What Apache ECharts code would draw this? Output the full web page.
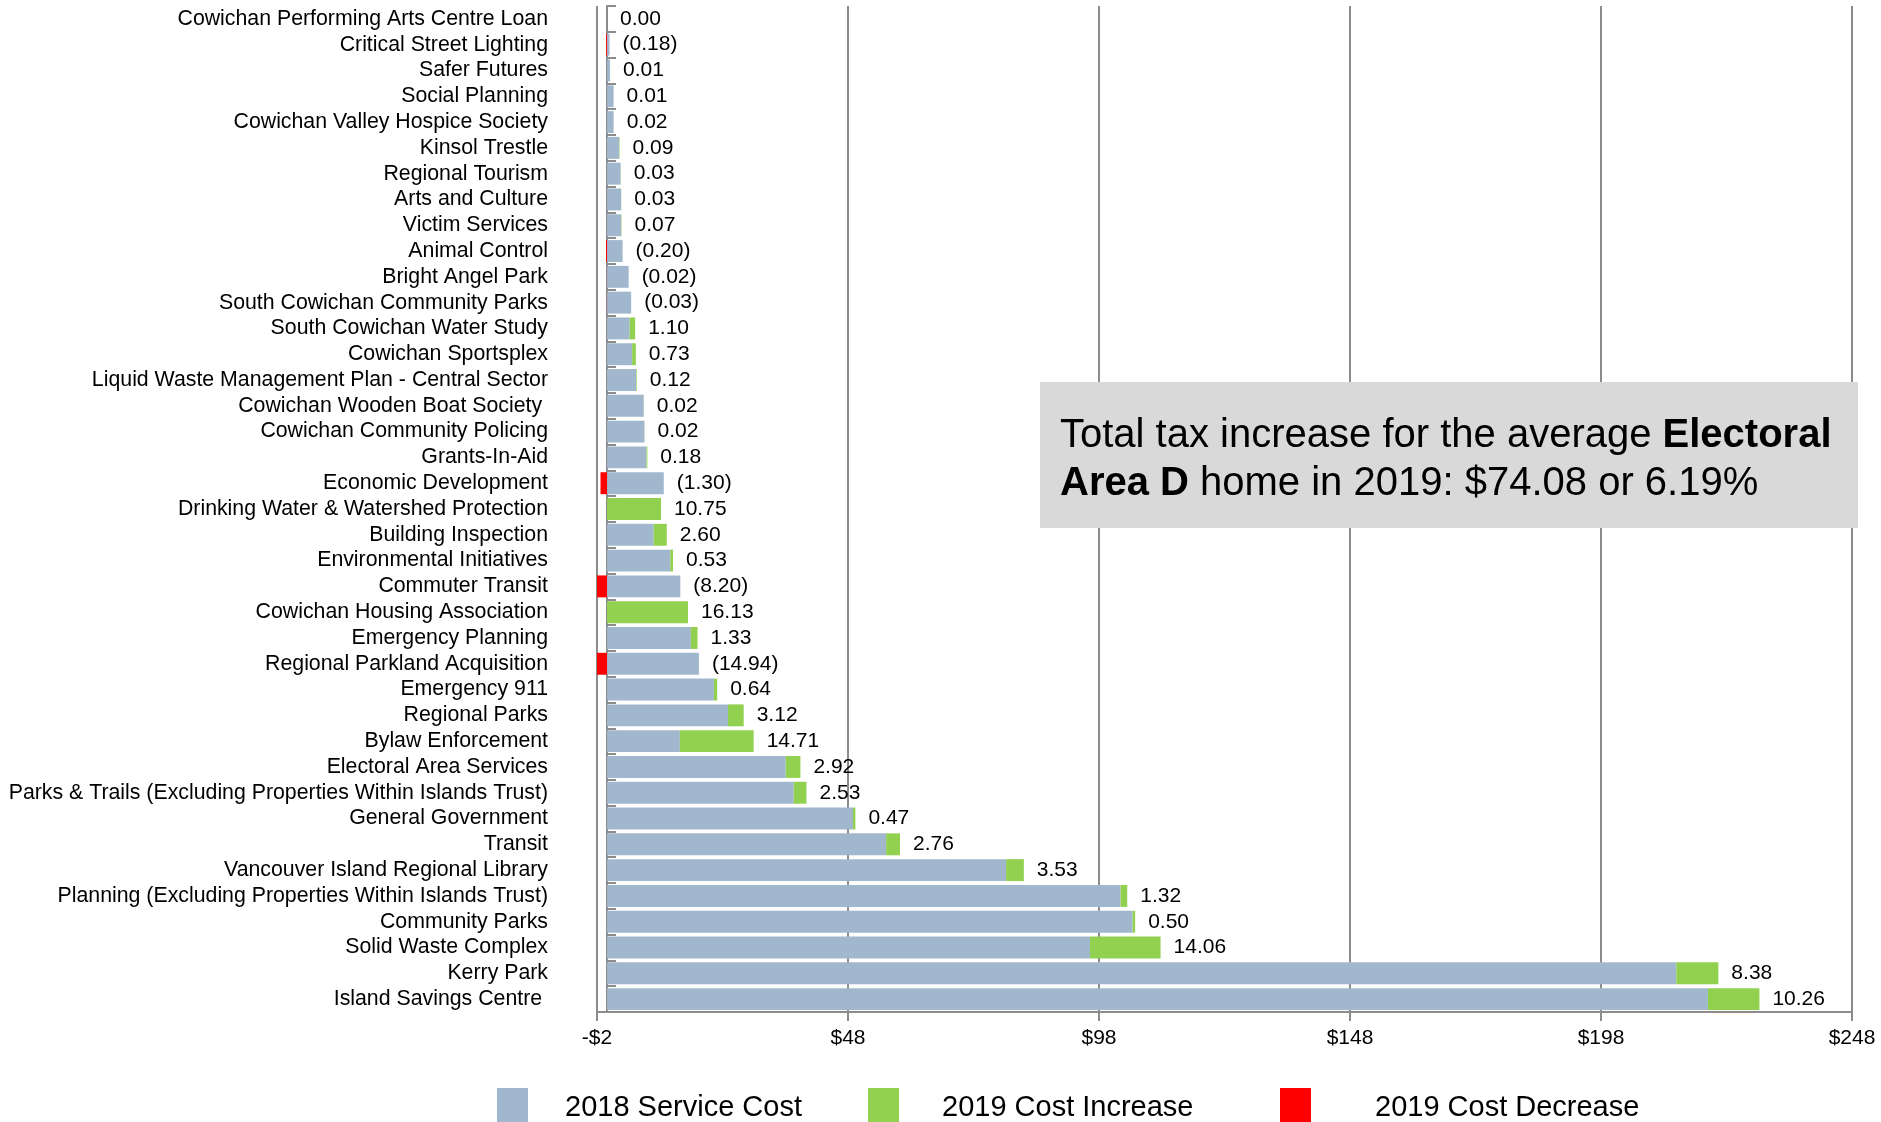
<!DOCTYPE html>
<html>
<head>
<meta charset="utf-8">
<script src="https://cdn.jsdelivr.net/npm/echarts@6/dist/echarts.min.js"></script>
<style>
html,body{margin:0;padding:0;background:#ffffff;}
#chart{width:1881px;height:1122px;}
</style>
</head>
<body>
<div id="chart"></div>
<script>
const categories = [
  'Cowichan Performing Arts Centre Loan',
  'Critical Street Lighting',
  'Safer Futures',
  'Social Planning',
  'Cowichan Valley Hospice Society',
  'Kinsol Trestle',
  'Regional Tourism',
  'Arts and Culture',
  'Victim Services',
  'Animal Control',
  'Bright Angel Park',
  'South Cowichan Community Parks',
  'South Cowichan Water Study',
  'Cowichan Sportsplex',
  'Liquid Waste Management Plan - Central Sector',
  'Cowichan Wooden Boat Society ',
  'Cowichan Community Policing',
  'Grants-In-Aid',
  'Economic Development',
  'Drinking Water & Watershed Protection',
  'Building Inspection',
  'Environmental Initiatives',
  'Commuter Transit',
  'Cowichan Housing Association',
  'Emergency Planning',
  'Regional Parkland Acquisition',
  'Emergency 911',
  'Regional Parks',
  'Bylaw Enforcement',
  'Electoral Area Services',
  'Parks & Trails (Excluding Properties Within Islands Trust)',
  'General Government',
  'Transit',
  'Vancouver Island Regional Library',
  'Planning (Excluding Properties Within Islands Trust)',
  'Community Parks',
  'Solid Waste Complex',
  'Kerry Park',
  'Island Savings Centre '
];

const serviceCost2018 = [
  0, 0.5, 0.6, 1.3, 1.3, 2.4, 2.7, 2.8, 2.8, 3.1,
  4.3, 4.8, 4.5, 5.0, 5.8, 7.3, 7.45, 7.85, 11.3, 0,
  9.3, 12.6, 14.6, 0, 16.7, 18.3, 21.3, 24.1, 14.5, 35.6,
  37.2, 49.0, 55.6, 79.5, 102.3, 104.7, 96.2, 213.0, 219.3
];

const costChange2019 = [
  0.00, -0.18, 0.01, 0.01, 0.02, 0.09, 0.03, 0.03, 0.07, -0.20,
  -0.02, -0.03, 1.10, 0.73, 0.12, 0.02, 0.02, 0.18, -1.30, 10.75,
  2.60, 0.53, -8.20, 16.13, 1.33, -14.94, 0.64, 3.12, 14.71, 2.92,
  2.53, 0.47, 2.76, 3.53, 1.32, 0.50, 14.06, 8.38, 10.26
];

const xTickValues = [-2, 48, 98, 148, 198, 248];

const seriesNames = ['2018 Service Cost', '2019 Cost Increase', '2019 Cost Decrease'];

const noteText = 'Total tax increase for the average {b|Electoral}\n{b|Area D} home in 2019: $74.08 or 6.19%';

// derived
const increases = costChange2019.map(v => v > 0 ? v : 0);
const decreases = costChange2019.map(v => v < 0 ? v : 0);
const labelAnchor = serviceCost2018.map((v, i) => v + increases[i]);

const FONT = "'Liberation Sans', Arial, sans-serif";
const COLORS = ['#a0b7cd', '#92d050', '#ff0000'];
const GRAY = '#8c8c8c';

function fmtChange(v) {
  return v < 0 ? '(' + Math.abs(v).toFixed(2) + ')' : v.toFixed(2);
}

const chart = echarts.init(document.getElementById('chart'), null, {renderer: 'canvas'});

function legendFor(i, left, textGap) {
  return {
    show: true,
    left: left,
    top: 1088,
    padding: 0,
    orient: 'horizontal',
    icon: 'rect',
    itemWidth: 31,
    itemHeight: 40,
    data: [seriesNames[i]],
    selectedMode: false,
    textStyle: {fontSize: 29, fontFamily: FONT, color: '#000', padding: [0, 0, 0, textGap]}
  };
}

const option = {
  animation: false,
  backgroundColor: '#ffffff',
  textStyle: {fontFamily: FONT},
  grid: {left: 597, top: 6, width: 1255, height: 1006, containLabel: false},
  legend: [
    legendFor(0, 497, 32),
    legendFor(1, 868, 38),
    legendFor(2, 1280, 59)
  ],
  xAxis: {
    type: 'value',
    min: -2,
    max: 248,
    axisLine: {show: true, lineStyle: {color: GRAY, width: 2}},
    axisTick: {show: true, length: 9, lineStyle: {color: GRAY, width: 2}, customValues: xTickValues},
    axisLabel: {
      show: true, customValues: xTickValues, margin: 16,
      fontSize: 21, color: '#000', fontFamily: FONT,
      formatter: v => (v < 0 ? '-$' + Math.abs(v) : '$' + v)
    },
    splitLine: {show: true, lineStyle: {color: GRAY, width: 2}}
  },
  yAxis: {
    type: 'category',
    data: categories,
    inverse: true,
    axisLine: {show: true, lineStyle: {color: GRAY, width: 2}},
    axisTick: {show: true, inside: true, interval: 0, length: 9, lineStyle: {color: GRAY, width: 2}},
    axisLabel: {show: true, interval: 0, margin: 49, fontSize: 21.3, color: '#000', fontFamily: FONT},
    splitLine: {show: false}
  },
  series: [
    {
      name: seriesNames[0], type: 'bar', stack: 'total',
      data: serviceCost2018,
      itemStyle: {color: COLORS[0]},
      barCategoryGap: '15%', barGap: '-100%'
    },
    {
      name: seriesNames[1], type: 'bar', stack: 'total',
      data: increases,
      itemStyle: {color: COLORS[1]},
      barCategoryGap: '15%', barGap: '-100%'
    },
    {
      name: seriesNames[2], type: 'bar', stack: 'total',
      data: decreases,
      itemStyle: {color: COLORS[2]},
      barCategoryGap: '15%', barGap: '-100%'
    },
    {
      name: 'labels', type: 'bar',
      data: labelAnchor,
      silent: true,
      itemStyle: {color: 'rgba(0,0,0,0)'},
      barCategoryGap: '15%', barGap: '-100%',
      label: {
        show: true, position: 'right', distance: 13,
        fontSize: 21, color: '#000', fontFamily: FONT,
        formatter: p => fmtChange(costChange2019[p.dataIndex])
      }
    }
  ],
  graphic: [
    {
      type: 'group', left: 1040, top: 382, z: 100,
      children: [
        {type: 'rect', z: 100, shape: {x: 0, y: 0, width: 818, height: 146}, style: {fill: '#d9d9d9'}},
        {
          type: 'text', z: 101, x: 20, y: 30,
          style: {
            text: noteText,
            fill: '#000', fontSize: 40, fontFamily: FONT, lineHeight: 48,
            verticalAlign: 'top', align: 'left',
            rich: {b: {fontWeight: 'bold', fontSize: 40, fontFamily: FONT, lineHeight: 48, fill: '#000'}}
          }
        }
      ]
    }
  ]
};

chart.setOption(option);
</script>
</body>
</html>
